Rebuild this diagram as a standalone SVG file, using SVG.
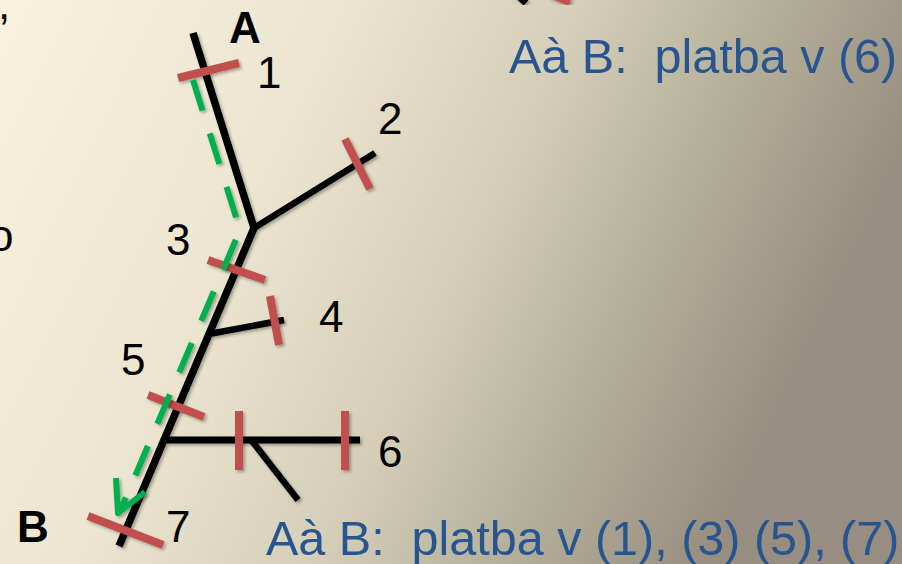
<svg xmlns="http://www.w3.org/2000/svg" width="902" height="564" viewBox="0 0 902 564">
<defs>
<linearGradient id="bg" x1="0" y1="0" x2="1" y2="0.3">
<stop offset="0" stop-color="#F8F2DE"/>
<stop offset="0.35" stop-color="#ECE5D0"/>
<stop offset="0.6" stop-color="#D4CEB8"/>
<stop offset="0.8" stop-color="#B2AD98"/>
<stop offset="1" stop-color="#978D80"/>
</linearGradient>
<filter id="sh" x="-20%" y="-20%" width="140%" height="140%">
<feDropShadow dx="2" dy="2" stdDeviation="1.5" flood-color="#000" flood-opacity="0.3"/>
</filter>
<style>
.blk{stroke:#000;fill:none;stroke-linecap:butt;stroke-linejoin:miter}
.red{stroke:#C0504D;stroke-width:8;fill:none}
.grn{stroke:#00B050;stroke-width:6;fill:none}
.num{font-family:"Liberation Sans",Arial,sans-serif;font-size:44px;fill:#000}
.lbl{font-family:"Liberation Sans",Arial,sans-serif;font-size:44px;font-weight:bold;fill:#000}
.blue{font-family:"Liberation Sans",Arial,sans-serif;font-size:48.5px;fill:#28558F}
</style>
</defs>
<rect width="902" height="564" fill="url(#bg)"/>
<text class="num" x="-2" y="19">,</text>
<text class="num" x="-11" y="251" font-size="46">o</text>
<g id="partial-top" filter="url(#sh)">
<line class="blk" x1="516" y1="-6" x2="526" y2="3" stroke-width="7"/>
<line class="red" x1="550" y1="-6" x2="570" y2="2" stroke-width="9"/>
</g>
<g id="connectors" filter="url(#sh)">
<polyline class="blk" stroke-width="7.5" points="193,33 254,228 119,546"/>
<line class="blk" stroke-width="6.5" x1="254" y1="228" x2="375" y2="153"/>
<line class="blk" stroke-width="6.5" x1="209" y1="334" x2="284" y2="320"/>
<line class="blk" stroke-width="7" x1="162" y1="440" x2="360" y2="440"/>
<line class="blk" stroke-width="6.5" x1="252" y1="441" x2="298" y2="500"/>
</g>
<g id="ticks" filter="url(#sh)">
<line id="t1" class="red" x1="178" y1="78" x2="239" y2="63"/>
<line id="t2" class="red" x1="345" y1="139" x2="370" y2="189"/>
<line id="t3" class="red" x1="208" y1="260" x2="265" y2="280"/>
<line id="t4" class="red" x1="270" y1="296" x2="279" y2="345"/>
<line id="t5" class="red" x1="148" y1="395" x2="204" y2="417"/>
<line id="t6a" class="red" x1="239" y1="411" x2="239" y2="470"/>
<line id="t6b" class="red" x1="345" y1="411" x2="345" y2="470"/>
<line id="t7" class="red" x1="88" y1="516" x2="163" y2="545"/>
</g>
<g id="route" filter="url(#sh)">
<path class="grn" d="M193,80 L240,230 L121,509" stroke-dasharray="32 24"/>
<polyline class="grn" stroke-width="8" stroke-linejoin="round" points="116,478 118,513 145,492"/>
</g>
<g id="labels">
<text class="lbl" x="229" y="43">A</text>
<text class="lbl" x="17" y="542">B</text>
<text class="num" x="257" y="88">1</text>
<text class="num" x="378" y="134">2</text>
<text class="num" x="166" y="255">3</text>
<text class="num" x="319" y="332">4</text>
<text class="num" x="121" y="375">5</text>
<text class="num" x="378" y="467">6</text>
<text class="num" x="166" y="542">7</text>
</g>
<g id="notes">
<text class="blue" x="509" y="73" xml:space="preserve">Aà B:  platba v (6)</text>
<text class="blue" x="266" y="555" xml:space="preserve">Aà B:  platba v (1), (3) (5), (7)</text>
</g>
</svg>
